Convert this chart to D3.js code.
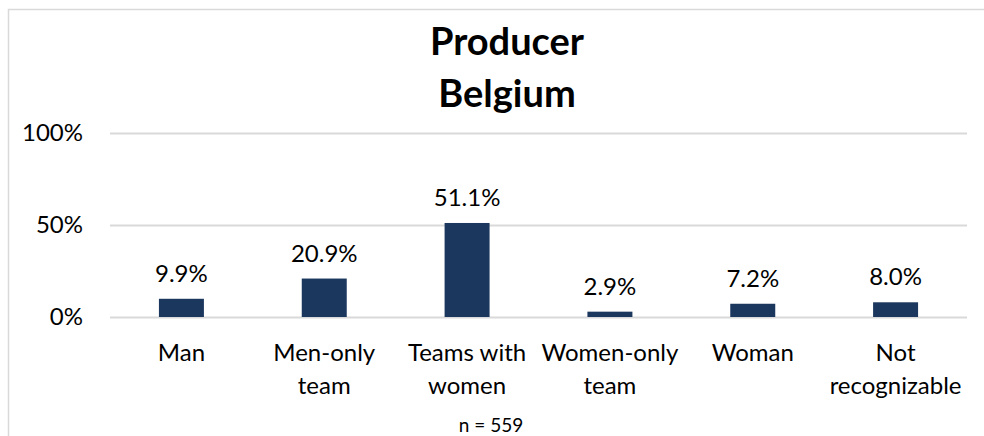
<!DOCTYPE html>
<html>
<head>
<meta charset="utf-8">
<script src="https://cdn.jsdelivr.net/npm/d3@7"></script>
<style>
  html, body { margin: 0; padding: 0; background: #ffffff; }
  svg { display: block; }
  text { font-family: Lato, "Open Sans", sans-serif; fill: #000000; }
</style>
</head>
<body>
<svg id="chart" width="984" height="436"></svg>
<script>
// Producer gender composition, Belgium
const categories = ["Man", "Men-only team", "Teams with women", "Women-only team", "Woman", "Not recognizable"];
const categoryLines = [["Man"], ["Men-only", "team"], ["Teams with", "women"], ["Women-only", "team"], ["Woman"], ["Not", "recognizable"]];
const shares = [0.099, 0.209, 0.511, 0.029, 0.072, 0.080];
const yTicks = [0, 0.5, 1];
const titleLines = ["Producer", "Belgium"];
const footnote = "n = 559";

const svg = d3.select("#chart");
const W = 984, H = 436;
const plot = { left: 110, right: 967, top: 133, bottom: 317 };
const barColor = "#1c375e";
const gridColor = "#d9d9d9";

// chart frame (continues past the right and bottom edges)
svg.append("rect")
  .attr("x", 8.5).attr("y", 9.5)
  .attr("width", W + 20).attr("height", H + 20)
  .attr("fill", "none")
  .attr("stroke", gridColor)
  .attr("stroke-width", 1.5);

const x = d3.scaleBand()
  .domain(categories)
  .range([plot.left, plot.right])
  .paddingInner(0.685)
  .paddingOuter(0.3425);

const y = d3.scaleLinear()
  .domain([0, 1])
  .range([plot.bottom, plot.top]);

// title
svg.append("g").selectAll("text")
  .data(titleLines)
  .join("text")
  .attr("x", 507)
  .attr("y", (d, i) => 55 + i * 52)
  .attr("text-anchor", "middle")
  .attr("font-size", 38)
  .attr("font-weight", 700)
  .text(d => d);

// y axis: gridlines and percent labels
const yAxis = d3.axisLeft(y)
  .tickValues(yTicks)
  .tickSize(-(plot.right - plot.left))
  .tickPadding(27)
  .tickFormat(d3.format(".0%"));

const gy = svg.append("g")
  .attr("transform", `translate(${plot.left},0)`)
  .call(yAxis);
gy.select(".domain").remove();
gy.selectAll(".tick line")
  .attr("stroke", gridColor)
  .attr("stroke-width", 2);
gy.selectAll(".tick text")
  .attr("font-size", 24)
  .attr("font-family", "Lato, 'Open Sans', sans-serif")
  .attr("fill", "#000");

// bars
svg.append("g").selectAll("rect")
  .data(shares)
  .join("rect")
  .attr("x", (d, i) => x(categories[i]))
  .attr("y", d => y(d))
  .attr("width", x.bandwidth())
  .attr("height", d => y(0) - y(d))
  .attr("fill", barColor);

// value labels
svg.append("g").selectAll("text")
  .data(shares)
  .join("text")
  .attr("x", (d, i) => x(categories[i]) + x.bandwidth() / 2)
  .attr("y", d => y(d) - 17)
  .attr("text-anchor", "middle")
  .attr("font-size", 24)
  .text(d => d3.format(".1%")(d));

// category labels (wrapped)
const cat = svg.append("g").selectAll("text")
  .data(categories)
  .join("text")
  .attr("text-anchor", "middle")
  .attr("font-size", 24);
cat.each(function (d, i) {
  const t = d3.select(this);
  categoryLines[i].forEach((line, j) => {
    t.append("tspan")
      .attr("x", x(d) + x.bandwidth() / 2)
      .attr("y", 361 + j * 33)
      .text(line);
  });
});

// sample size
svg.append("text")
  .attr("x", 491)
  .attr("y", 432)
  .attr("text-anchor", "middle")
  .attr("font-size", 19)
  .text(footnote);
</script>
</body>
</html>
